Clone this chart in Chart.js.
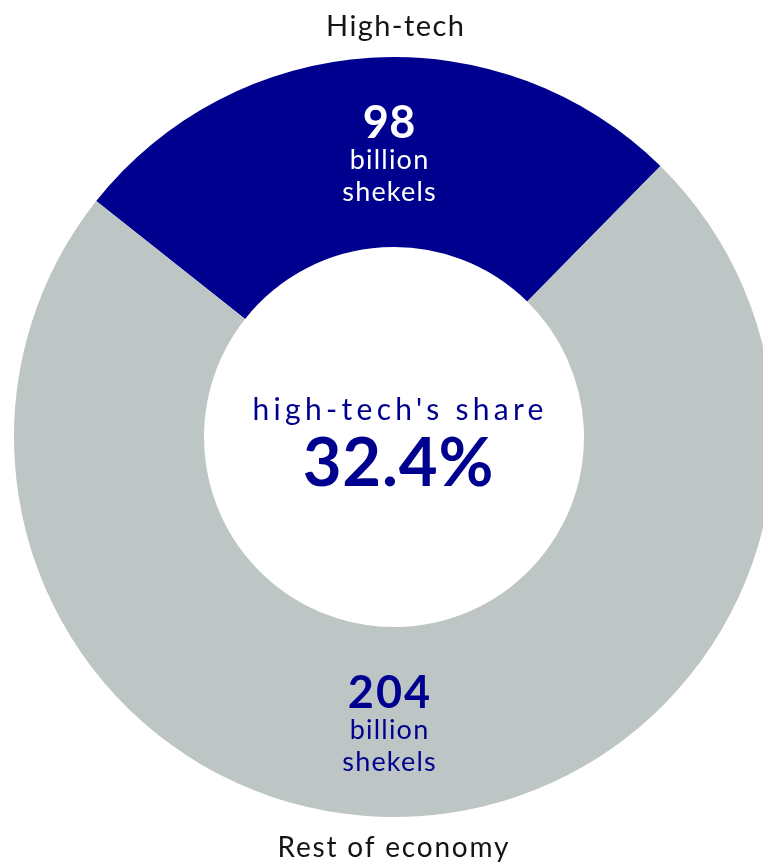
<!DOCTYPE html>
<html>
<head>
<meta charset="utf-8">
<script src="https://cdn.jsdelivr.net/npm/chart.js@4"></script>
<style>
  html, body { margin: 0; padding: 0; background: #fff; overflow: hidden; }
  #wrap { position: absolute; left: 0; top: 0; width: 788px; height: 863px; }
</style>
</head>
<body>
<div id="wrap"><canvas id="donut" width="788" height="863"></canvas></div>
<script>
// data
const categories = ['High-tech', 'Rest of economy'];
const valuesBn = [98, 204];          // billion shekels, as labelled
const arcShare = [26.7, 73.3];       // slice sizes as drawn (degrees / 3.6)
const unitLines = ['billion', 'shekels'];
const centerTitle = "high-tech's share";
const centerValue = '32.4%';

const NAVY = '#00008f';
const GREY = '#bdc6c5';

// labels drawn on top of the doughnut
const labelPlugin = {
    id: 'labels',
    afterDraw(chart) {
        const ctx = chart.ctx;
        const arcs = chart.getDatasetMeta(0).data;
        const cx = arcs[0].x, cy = arcs[0].y;
        const outer = arcs[0].outerRadius, inner = arcs[0].innerRadius;
        const mid = (outer + inner) / 2;

        function txt(s, x, y, font, color, spacing) {
            ctx.save();
            ctx.font = font;
            ctx.fillStyle = color;
            ctx.textAlign = 'center';
            ctx.textBaseline = 'alphabetic';
            ctx.letterSpacing = (spacing || 0) + 'px';
            ctx.fillText(s, x + (spacing || 0) / 2, y);
            ctx.restore();
        }

        // category names outside the ring
        txt(categories[0], cx + 1, cy - outer - 21, '29px Lato', '#141414', 1.4);
        txt(categories[1], cx - 1, cy + outer + 40, '28px Lato', '#141414', 1.8);

        // values inside the slices
        const colors = ['#ffffff', NAVY];
        const dirs = [-1, 1];
        const numSpacing = [0.5, 2];
        valuesBn.forEach((v, i) => {
            const gy = cy + dirs[i] * mid;
            const gx = cx - 5;
            txt(String(v), gx, gy - 14, 'bold 45px Lato', colors[i], numSpacing[i]);
            txt(unitLines[0], gx, gy + 17, '27px Lato', colors[i], 1.2);
            txt(unitLines[1], gx, gy + 49, '27px Lato', colors[i], 1.2);
        });

        // centre
        txt(centerTitle, cx + 4, cy - 17, '30px Lato', NAVY, 4.3);
        txt(centerValue, cx + 4, cy + 49, 'bold 67px Lato', NAVY, 0.8);
    }
};

new Chart(document.getElementById('donut'), {
    type: 'doughnut',
    data: {
        labels: categories,
        datasets: [{
            data: arcShare,
            backgroundColor: [NAVY, GREY],
            borderWidth: 0,
            hoverOffset: 0
        }]
    },
    options: {
        responsive: false,
        animation: false,
        cutout: '50%',
        rotation: -51.6,
        layout: { padding: { top: 57, bottom: 46, left: 0, right: 0 } },
        plugins: {
            legend: { display: false },
            tooltip: { enabled: false }
        }
    },
    plugins: [labelPlugin]
});
</script>
</body>
</html>
